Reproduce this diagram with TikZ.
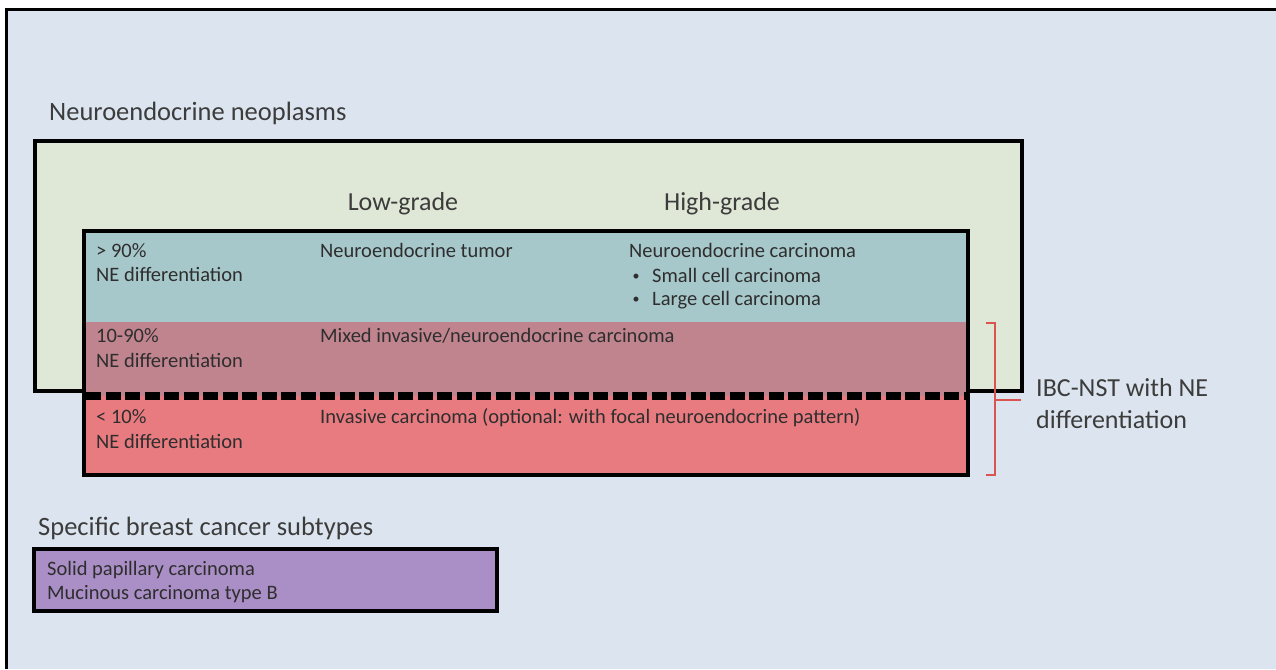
\documentclass[tikz,border=0pt]{standalone}
\usepackage{fontspec}
\setmainfont{Carlito}
\usetikzlibrary{positioning}
\definecolor{bgpanel}{HTML}{DCE5EF}
\definecolor{neopl}{HTML}{DFE8D7}
\definecolor{hiNE}{HTML}{A7C8CB}
\definecolor{midNE}{HTML}{C0848F}
\definecolor{loNE}{HTML}{E87B80}
\definecolor{subt}{HTML}{AA8EC6}
\definecolor{brack}{HTML}{D9544F}
\definecolor{ink}{HTML}{2E2E2E}
\definecolor{headink}{HTML}{3C3C3C}

\begin{document}
\begin{tikzpicture}[
    x=1pt, y=-1pt,
    frame/.style  = {draw=black, line width=4pt},
    head/.style   = {font=\fontsize{26.5}{31}\selectfont, text=headink, inner sep=0pt, anchor=base west},
    grade/.style  = {font=\fontsize{26}{31}\selectfont, text=headink, inner sep=0pt, anchor=base},
    cell/.style   = {font=\fontsize{20.5}{24}\selectfont, text=ink, inner sep=0pt, anchor=base west},
    dot/.style    = {font=\fontsize{14}{16}\selectfont, text=ink, inner sep=0pt, anchor=base},
    side/.style   = {font=\fontsize{26}{31}\selectfont, text=headink, inner sep=0pt, anchor=base west},
]
\useasboundingbox (0,0) rectangle (1276,669);

% ------------------------------------------- background -------------------------------------------
\fill[white] (0,0) rectangle (1276,669);
\fill[bgpanel] (6,10) rectangle (1276,669);
\draw[black, line width=3pt] (6,669) -- (6,10) -- (1276,10);

% -------------------------------------- neuroendocrine neoplasms ----------------------------------
\node[head] (neo) at (49,120) {Neuroendocrine neoplasms};
\fill[neopl] (35,141) rectangle (1022,391);
\draw[frame] (35,141) rectangle (1022,391);

\node[grade] (low)  at (403,210) {Low-grade};
\node[grade] (high) at (722,210) {High-grade};

% ------------------------------------------ differentiation rows ----------------------------------
\fill[hiNE]  (84,231) rectangle (968,322);
\fill[midNE] (84,322) rectangle (968,396);
\fill[loNE]  (84,396) rectangle (968,475);
\draw[black, line width=8pt, dash pattern=on 15pt off 4.5pt] (86,396) -- (966,396);
\draw[frame] (84,231) rectangle (968,475);

% > 90%
\node[cell] (p90)   at (96,257)  {> 90\%};
\node[cell] (ne90)  at (96,281)  {NE differentiation};
\node[cell] (net)   at (320,257) {Neuroendocrine tumor};
\node[cell] (nec)   at (629,257) {Neuroendocrine carcinoma};
\node[cell] (small) at (652,282) {Small cell carcinoma};
\node[cell] (large) at (652,305) {Large cell carcinoma};
\node[dot] at (636,280) {\textbullet};
\node[dot] at (636,303) {\textbullet};

% 10-90%
\node[cell] (p1090)  at (96,342)  {10-90\%};
\node[cell] (ne1090) at (96,367)  {NE differentiation};
\node[cell] (mixed)  at (320,342) {Mixed invasive/neuroendocrine carcinoma};

% < 10%
\node[cell] (p10)  at (96,423)  {< 10\%};
\node[cell] (ne10) at (96,448)  {NE differentiation};
\node[cell] (inv)  at (320,423) {Invasive carcinoma (optional: with focal neuroendocrine pattern)};

% ----------------------------------------------- bracket ------------------------------------------
\draw[brack, line width=2pt] (986,323) -- (995,323) -- (995,475) -- (986,475);
\draw[brack, line width=2pt] (995,400) -- (1021,400);
\node[side] (ibc)  at (1036,396) {IBC-NST with NE};
\node[side] (ibcd) at (1036,428) {differentiation};

% --------------------------------------------- subtypes -------------------------------------------
\node[head] (spec) at (38,535) {Specific breast cancer subtypes};
\fill[subt] (34,549) rectangle (497,611);
\draw[frame] (34,549) rectangle (497,611);
\node[cell] (solid) at (47,575) {Solid papillary carcinoma};
\node[cell] (muc)   at (47,599) {Mucinous carcinoma type B};

\end{tikzpicture}
\end{document}
